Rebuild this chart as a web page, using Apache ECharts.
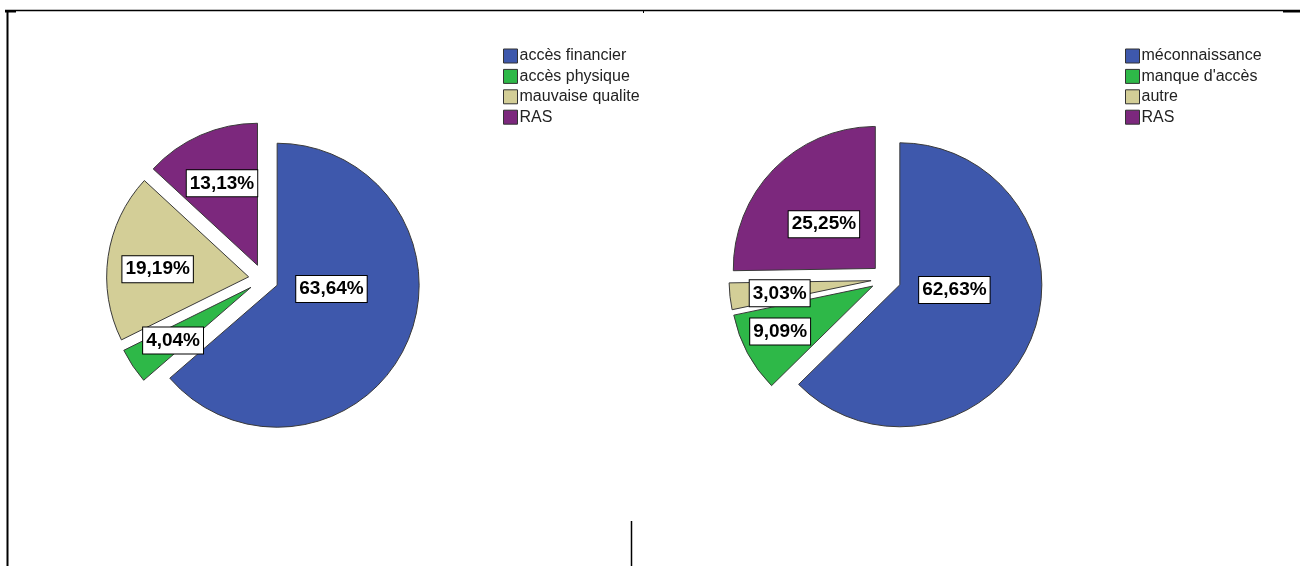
<!DOCTYPE html>
<html>
<head>
<meta charset="utf-8">
<script src="https://cdn.jsdelivr.net/npm/echarts@6/dist/echarts.min.js"></script>
<style>
  html, body { margin: 0; padding: 0; background: #fff; }
  #chart { width: 1300px; height: 566px; }
</style>
</head>
<body>
<div id="chart"></div>
<script>
// Reasons given — first pie
const leftCategories = ['accès financier', 'accès physique', 'mauvaise qualite', 'RAS'];
const leftValues = [63.64, 4.04, 19.19, 13.13];

// Reasons given — second pie
const rightCategories = ['méconnaissance', "manque d'accès", 'autre', 'RAS'];
const rightValues = [62.63, 9.09, 3.03, 25.25];

const sliceColors = ['#3E58AC', '#2EB848', '#D3CE97', '#7C287D'];

// Geometry shared by both pies
const pieRadius = 142;
const labelRingRadius = 186;   // labels sit halfway along this invisible ring
const explode = 15;

// Small per-label nudges so the boxes don't crowd each other
const leftNudges = [[-33, -36], [2, 0], [4, 6], [3, 6]];
const rightNudges = [[-34, -32], [-8, 0], [4, 2], [17, 23]];

function fmtPct(v) {
  return v.toFixed(2).replace('.', ',') + '%';
}

function sliceData(cats, vals) {
  return cats.map((c, i) => ({
    name: c,
    value: vals[i],
    selected: true,
    itemStyle: { color: sliceColors[i] }
  }));
}

function piePair(cats, vals, center, nudges) {
  const slices = {
    type: 'pie',
    silent: true,
    center: center,
    radius: pieRadius,
    startAngle: 90,
    clockwise: true,
    selectedMode: 'multiple',
    selectedOffset: explode,
    avoidLabelOverlap: false,
    label: { show: false },
    labelLine: { show: false },
    itemStyle: { borderColor: '#3a3a3a', borderWidth: 1 },
    select: { itemStyle: { borderColor: '#3a3a3a', borderWidth: 1 } },
    emphasis: { disabled: true },
    animation: false,
    data: sliceData(cats, vals)
  };
  const labels = {
    type: 'pie',
    silent: true,
    z: 5,
    center: center,
    radius: labelRingRadius,
    startAngle: 90,
    clockwise: true,
    selectedMode: 'multiple',
    selectedOffset: explode,
    avoidLabelOverlap: false,
    itemStyle: { color: 'rgba(0,0,0,0)', borderWidth: 0 },
    select: { itemStyle: { color: 'rgba(0,0,0,0)', borderWidth: 0 } },
    emphasis: { disabled: true },
    animation: false,
    labelLine: { show: false },
    label: {
      show: true,
      position: 'inside',
      formatter: p => fmtPct(p.value),
      color: '#000',
      fontFamily: 'Liberation Sans, Arial, sans-serif',
      fontWeight: 'bold',
      fontSize: 19,
      backgroundColor: '#fff',
      borderColor: '#000',
      borderWidth: 1,
      padding: [4, 3, 3, 3]
    },
    labelLayout: p => ({ dx: nudges[p.dataIndex][0], dy: nudges[p.dataIndex][1] }),
    data: cats.map((c, i) => ({ name: c, value: vals[i], selected: true }))
  };
  return [slices, labels];
}

function legendFor(cats, left) {
  return {
    orient: 'vertical',
    left: left,
    top: 48,
    padding: 0,
    icon: 'rect',
    itemWidth: 14,
    itemHeight: 14,
    itemGap: 4.4,
    selectedMode: false,
    itemStyle: { borderColor: '#333', borderWidth: 1 },
    textStyle: {
      fontFamily: 'Liberation Sans, Arial, sans-serif',
      fontSize: 16,
      color: '#222',
      lineHeight: 16,
      padding: [0, 0, 0, -3]
    },
    data: cats.map((c, i) => ({ name: c, itemStyle: { color: sliceColors[i] } }))
  };
}

const chart = echarts.init(document.getElementById('chart'), null, { renderer: 'canvas' });

chart.setOption({
  backgroundColor: '#fff',
  animation: false,
  legend: [legendFor(leftCategories, 503), legendFor(rightCategories, 1125)],
  series: [
    ...piePair(leftCategories, leftValues, [263.5, 279], leftNudges),
    ...piePair(rightCategories, rightValues, [886, 279], rightNudges)
  ],
  graphic: [
    // panel frame
    { type: 'line', shape: { x1: 5, y1: 10.5, x2: 1300, y2: 10.5 }, style: { stroke: '#000', lineWidth: 1.5 } },
    { type: 'line', shape: { x1: 7.5, y1: 10, x2: 7.5, y2: 566 }, style: { stroke: '#000', lineWidth: 2 } },
    { type: 'line', shape: { x1: 5, y1: 11.5, x2: 16, y2: 11.5 }, style: { stroke: '#000', lineWidth: 2 } },
    { type: 'line', shape: { x1: 1283, y1: 11.5, x2: 1300, y2: 11.5 }, style: { stroke: '#000', lineWidth: 2 } },
    { type: 'line', shape: { x1: 643.5, y1: 10, x2: 643.5, y2: 13 }, style: { stroke: '#000', lineWidth: 1 } },
    { type: 'line', shape: { x1: 631.5, y1: 521, x2: 631.5, y2: 566 }, style: { stroke: '#000', lineWidth: 1.5 } }
  ]
});
</script>
</body>
</html>
